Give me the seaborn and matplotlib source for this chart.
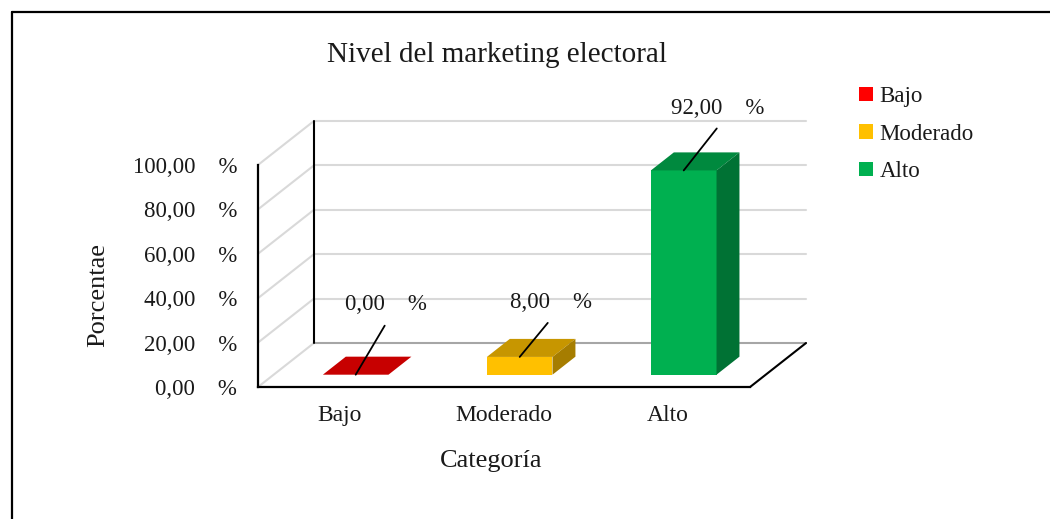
import numpy as np
import pandas as pd
import matplotlib
matplotlib.use("Agg")
import matplotlib.pyplot as plt
import matplotlib.colors as mcolors
from matplotlib.patches import Polygon, Patch
from matplotlib.lines import Line2D
import seaborn as sns

# Datos
CATEGORIAS = ['Bajo', 'Moderado', 'Alto']
PORCENTAJES = [0.0, 8.0, 92.0]
COLORES = ['#ff0000', '#ffc000', '#00b050']
TICKS_Y = [0, 20, 40, 60, 80, 100]

# Geometria pseudo 3D (tipo Excel)
PROF_X = 0.341      # profundidad del piso, en unidades de categoria
PROF_Y = 19.8       # profundidad del piso, en unidades de %
BAR_FRENTE = 0.28   # posicion de la cara frontal de la barra (fraccion de profundidad)
BAR_FONDO = 0.69
ANCHO = 0.4

# Posicion de las etiquetas de datos (offset en puntos desde el borde frontal superior)
OFF_TEXTO = [(21.6, 50.4), (22.3, 38.9), (24.5, 44.6)]
OFF_LINEA = [(20.9, 35.3), (20.2, 24.5), (23.8, 30.2)]

TXT = '#1a1a1a'


def fmt(v):
    return f"{v:.2f}".replace('.', ',') + "    %"


def oscurecer(c, f):
    return tuple(np.array(mcolors.to_rgb(c)) * f)


sns.set_theme(style="white")
plt.rcParams['font.family'] = ['Liberation Serif', 'DejaVu Serif']

df = pd.DataFrame({'Categoría': CATEGORIAS, 'Porcentaje': PORCENTAJES})

fig = plt.figure(figsize=(10.5, 5.19), dpi=100)
ax = fig.add_axes([258 / 1050, 132 / 519, 548 / 1050, 266 / 519])

sns.barplot(data=df, x='Categoría', y='Porcentaje', hue='Categoría',
            palette=COLORES, width=ANCHO, saturation=1, linewidth=0,
            legend=False, ax=ax, zorder=3)

dx = (BAR_FONDO - BAR_FRENTE) * PROF_X
dy = (BAR_FONDO - BAR_FRENTE) * PROF_Y

# Caras frontal, superior y lateral
for p in list(ax.patches):
    x0 = p.get_x() + BAR_FRENTE * PROF_X
    y0 = BAR_FRENTE * PROF_Y
    w = p.get_width()
    h = p.get_height()
    i = int(round(p.get_x() + w / 2))
    p.set_x(x0)
    p.set_y(y0)
    col = COLORES[i]
    top = Polygon([(x0, y0 + h), (x0 + w, y0 + h), (x0 + w + dx, y0 + h + dy), (x0 + dx, y0 + h + dy)],
                  closed=True, facecolor=oscurecer(col, 0.78), edgecolor='none', zorder=3)
    side = Polygon([(x0 + w, y0), (x0 + w + dx, y0 + dy), (x0 + w + dx, y0 + h + dy), (x0 + w, y0 + h)],
                   closed=True, facecolor=oscurecer(col, 0.65), edgecolor='none', zorder=3)
    ax.add_patch(top)
    ax.add_patch(side)
    # etiqueta de datos con linea guia
    cx = x0 + w / 2
    cy = y0 + h
    ax.annotate(fmt(PORCENTAJES[i]), xy=(cx, cy), xytext=OFF_TEXTO[i], textcoords='offset points',
                ha='center', va='center', fontsize=16.5, color=TXT, zorder=6)
    ax.annotate('', xy=(cx, cy), xytext=OFF_LINEA[i], textcoords='offset points',
                arrowprops=dict(arrowstyle='-', color='black', lw=1.3, shrinkA=0, shrinkB=0), zorder=6)

# Paredes y piso
xb = -0.5 + PROF_X
for v in TICKS_Y:
    gc = '#a6a6a6' if v == 0 else '#d9d9d9'
    ax.plot([xb, 2.5 + PROF_X], [v + PROF_Y] * 2, color=gc, lw=1.5, zorder=1, clip_on=False)
    ax.plot([-0.5, xb], [v, v + PROF_Y], color='#d9d9d9', lw=1.5, zorder=1, clip_on=False)
ax.plot([xb, xb], [PROF_Y, 100 + PROF_Y], color='black', lw=1.5, zorder=2, clip_on=False)
ax.plot([2.5, 2.5 + PROF_X], [0, PROF_Y], color='black', lw=1.5, zorder=2, clip_on=False)

ax.set_xlim(-0.5, 2.5 + PROF_X)
ax.set_ylim(0, 100 + PROF_Y)
ax.set_yticks(TICKS_Y)
ax.set_yticklabels([fmt(v) for v in TICKS_Y])
ax.tick_params(axis='y', length=0, pad=15, labelsize=16.5, labelcolor=TXT)
ax.tick_params(axis='x', length=0, pad=13, labelsize=17, labelcolor=TXT)

for s in ['top', 'right']:
    ax.spines[s].set_visible(False)
ax.spines['left'].set_bounds(0, 100)
ax.spines['bottom'].set_bounds(-0.5, 2.5)
for s in ['left', 'bottom']:
    ax.spines[s].set_color('black')
    ax.spines[s].set_linewidth(1.6)
ax.patch.set_alpha(0)

ax.set_xlabel('Categoría', fontsize=19, color=TXT, va='center')
ax.xaxis.set_label_coords((491 - 258) / 548, (387 - 461) / 266)
ax.set_ylabel('Porcentae', fontsize=19, color=TXT, va='center')
ax.yaxis.set_label_coords((98 - 258) / 548, (387 - 295) / 266)

# Leyenda
handles = [Patch(facecolor=c, edgecolor='none', label=n) for c, n in zip(COLORES, CATEGORIAS)]
leg = ax.legend(handles=handles, loc='upper left', bbox_to_anchor=(859 / 1050, 1 - 86 / 519),
                bbox_transform=fig.transFigure, frameon=False,
                fontsize=16.5, handlelength=0.6, handleheight=0.6,
                handletextpad=0.3, labelspacing=0.72, borderpad=0, borderaxespad=0)
for t in leg.get_texts():
    t.set_color(TXT)

fig.text(497 / 1050, 1 - 55 / 519, 'Nivel del marketing electoral', ha='center', va='center',
         fontsize=21, color=TXT)

# Borde del grafico
fig.add_artist(Line2D([12 / 1050, 1], [1 - 12 / 519] * 2, color='black', lw=1.6, transform=fig.transFigure))
fig.add_artist(Line2D([12 / 1050] * 2, [0, 1 - 12 / 519], color='black', lw=1.6, transform=fig.transFigure))

fig.savefig('out.png', dpi=100)
